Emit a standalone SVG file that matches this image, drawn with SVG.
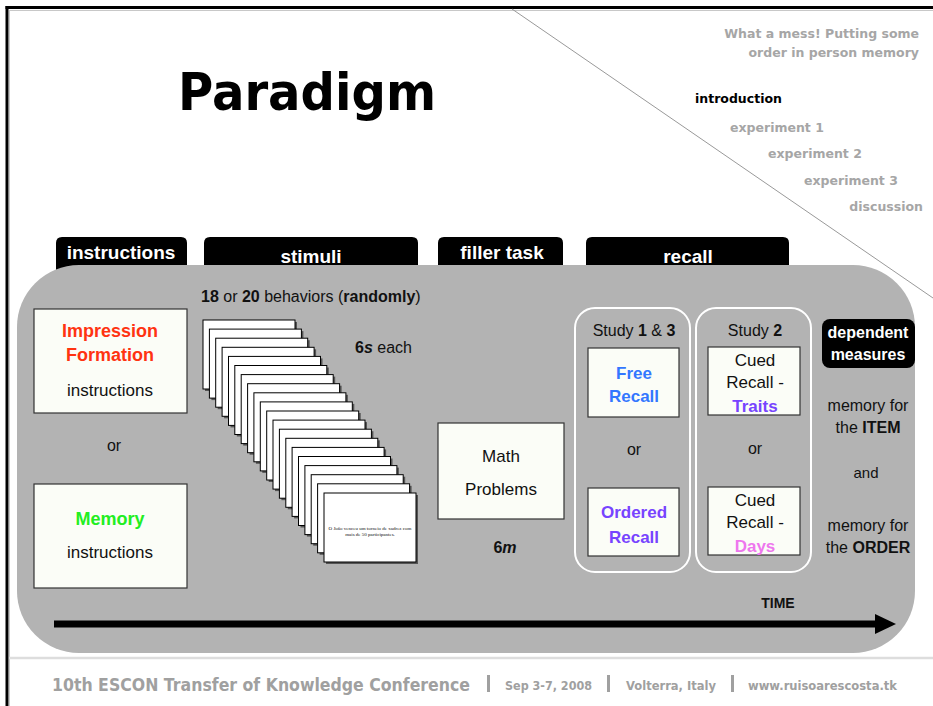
<svg xmlns="http://www.w3.org/2000/svg" width="933" height="706" viewBox="0 0 933 706">
<style>
text{font-family:"Liberation Sans","DejaVu Sans",sans-serif;fill:#111}
.b{font-weight:bold}
.tab{fill:#000}
.tabt{fill:#fff;font-weight:bold;font-size:19px;text-anchor:middle}
.box{fill:#fbfdf7;stroke:#333;stroke-width:1.2}
.t17{font-size:17px}
.m{text-anchor:middle}
.nav{font-family:"DejaVu Sans","Liberation Sans",sans-serif;font-weight:bold;font-size:12.5px;fill:#a6a6a6}
.foot{font-family:"DejaVu Sans","Liberation Sans",sans-serif;font-weight:bold;fill:#a0a0a0}
.study{fill:none;stroke:#fff;stroke-width:2}
</style>
<defs>
<g id="card">
<rect x="2" y="2" width="92" height="69" fill="#555"/>
<rect x="0" y="0" width="92" height="69" fill="#fff" stroke="#000" stroke-width="1"/>
</g>
</defs>
<rect width="933" height="706" fill="#fff"/>
<!-- frame -->
<line x1="9.5" y1="10.5" x2="933" y2="10.5" stroke="#c8c8c8" stroke-width="1"/>
<line x1="9.5" y1="10" x2="9.5" y2="706" stroke="#c8c8c8" stroke-width="1"/>
<line x1="5.5" y1="7.5" x2="933" y2="7.5" stroke="#000" stroke-width="3"/>
<line x1="7" y1="6" x2="7" y2="706" stroke="#000" stroke-width="3"/>
<line x1="512" y1="9" x2="933" y2="298" stroke="#999" stroke-width="1"/>
<line x1="9" y1="658" x2="933" y2="658" stroke="#ddd" stroke-width="2.5"/>
<!-- title & nav -->
<text x="178" y="110" font-size="52" font-weight="bold" textLength="258" lengthAdjust="spacingAndGlyphs" style="fill:#000;font-family:'DejaVu Sans',sans-serif">Paradigm</text>
<text x="919" y="38" class="nav" text-anchor="end">What a mess! Putting some</text>
<text x="919" y="57" class="nav" text-anchor="end">order in person memory</text>
<text x="695" y="103" class="nav" style="fill:#000">introduction</text>
<text x="730" y="132" class="nav">experiment 1</text>
<text x="768" y="158" class="nav">experiment 2</text>
<text x="804" y="185" class="nav">experiment 3</text>
<text x="923" y="211" class="nav" text-anchor="end">discussion</text>
<!-- tabs -->
<g id="tab-instructions"><path class="tab" d="M56,275 V243 Q56,237 62,237 H181 Q187,237 187,243 V275 Z"/><text x="121" y="259" class="tabt">instructions</text></g>
<g id="tab-stimuli"><path class="tab" d="M204,275 V243 Q204,237 210,237 H412 Q418,237 418,243 V275 Z"/><text x="311" y="263" class="tabt">stimuli</text></g>
<g id="tab-filler"><path class="tab" d="M438,275 V243 Q438,237 444,237 H557 Q563,237 563,243 V275 Z"/><text x="502" y="259" class="tabt">filler task</text></g>
<g id="tab-recall"><path class="tab" d="M586,275 V243 Q586,237 592,237 H783 Q789,237 789,243 V275 Z"/><text x="688" y="263" class="tabt">recall</text></g>
<!-- panel -->
<rect id="panel" x="17" y="265" width="898" height="388" rx="62" ry="62" fill="#b3b3b3"/>
<!-- instructions -->
<g id="impression">
<rect class="box" x="34" y="309" width="153" height="104"/>
<text x="110" y="337" class="b m" font-size="18" style="fill:#ff3311">Impression</text>
<text x="110" y="361" class="b m" font-size="18" style="fill:#ff3311">Formation</text>
<text x="110" y="396" class="m t17">instructions</text>
</g>
<text x="114" y="451" class="m" font-size="16">or</text>
<g id="memory">
<rect class="box" x="34" y="484" width="153" height="104"/>
<text x="110" y="525" class="b m" font-size="18" style="fill:#22ee22">Memory</text>
<text x="110" y="558" class="m t17">instructions</text>
</g>
<!-- stimuli -->
<g id="stimuli">
<text x="201" y="302" font-size="16"><tspan class="b">18</tspan> or <tspan class="b">20</tspan> behaviors (<tspan class="b">randomly</tspan>)</text>
<text x="355" y="353" font-size="16"><tspan class="b">6</tspan><tspan class="b" font-style="italic">s</tspan> each</text>
<use href="#card" x="203" y="320"/><use href="#card" x="209.4" y="329.1"/><use href="#card" x="215.7" y="338.2"/><use href="#card" x="222.1" y="347.3"/><use href="#card" x="228.5" y="356.4"/>
<use href="#card" x="234.8" y="365.5"/><use href="#card" x="241.2" y="374.6"/><use href="#card" x="247.6" y="383.7"/><use href="#card" x="253.9" y="392.8"/><use href="#card" x="260.3" y="401.9"/>
<use href="#card" x="266.7" y="411"/><use href="#card" x="273" y="420.1"/><use href="#card" x="279.4" y="429.2"/><use href="#card" x="285.8" y="438.3"/><use href="#card" x="292.1" y="447.4"/>
<use href="#card" x="298.5" y="456.5"/><use href="#card" x="304.9" y="465.6"/><use href="#card" x="311.2" y="474.7"/><use href="#card" x="317.6" y="483.8"/><use href="#card" x="324" y="493"/>
<text x="370" y="530" class="m" font-size="5" style="font-family:'Liberation Serif',serif">O João venceu um torneio de xadrez com</text>
<text x="370" y="535.5" class="m" font-size="5" style="font-family:'Liberation Serif',serif">mais de 50 participantes.</text>
</g>
<!-- filler -->
<g id="math">
<rect class="box" x="438" y="423" width="126" height="96"/>
<text x="501" y="462" class="m t17">Math</text>
<text x="501" y="495" class="m t17">Problems</text>
<text x="505" y="553" class="m b" font-size="16">6<tspan font-style="italic">m</tspan></text>
</g>
<!-- recall -->
<g id="study13">
<rect class="study" x="575" y="308" width="115" height="264" rx="20"/>
<text x="634" y="336" class="m" font-size="16">Study <tspan class="b">1</tspan> &amp; <tspan class="b">3</tspan></text>
<rect class="box" x="588" y="348" width="91" height="69"/>
<text x="634" y="379" class="m b t17" style="fill:#3377ff">Free</text>
<text x="634" y="402" class="m b t17" style="fill:#3377ff">Recall</text>
<text x="634" y="455" class="m" font-size="16">or</text>
<rect class="box" x="588" y="488" width="91" height="68"/>
<text x="634" y="518" class="m b t17" style="fill:#7744ff">Ordered</text>
<text x="634" y="543" class="m b t17" style="fill:#7744ff">Recall</text>
</g>
<g id="study2">
<rect class="study" x="696" y="308" width="115" height="264" rx="20"/>
<text x="755" y="336" class="m" font-size="16">Study <tspan class="b">2</tspan></text>
<rect class="box" x="708" y="347" width="92" height="68"/>
<text x="755" y="366" class="m t17">Cued</text>
<text x="755" y="388" class="m t17">Recall -</text>
<text x="755" y="412" class="m b t17" style="fill:#7744ff">Traits</text>
<text x="755" y="454" class="m" font-size="16">or</text>
<rect class="box" x="708" y="487" width="92" height="68"/>
<text x="755" y="506" class="m t17">Cued</text>
<text x="755" y="528" class="m t17">Recall -</text>
<text x="755" y="552" class="m b t17" style="fill:#ee77ee">Days</text>
</g>
<!-- dependent measures -->
<g id="dependent">
<rect x="822" y="319" width="93" height="49" rx="8" fill="#000"/>
<text x="868" y="338" class="m b" font-size="16" style="fill:#fff">dependent</text>
<text x="868" y="360" class="m b" font-size="16" style="fill:#fff">measures</text>
<text x="868" y="411" class="m" font-size="16">memory for</text>
<text x="868" y="433" class="m" font-size="16">the <tspan class="b">ITEM</tspan></text>
<text x="866" y="478" class="m" font-size="15">and</text>
<text x="868" y="531" class="m" font-size="16">memory for</text>
<text x="868" y="553" class="m" font-size="16">the <tspan class="b">ORDER</tspan></text>
</g>
<!-- timeline -->
<g id="connectors">
<line x1="54" y1="624" x2="877" y2="624" stroke="#000" stroke-width="7"/>
<polygon points="875,614 896,624 875,634" fill="#000"/>
</g>
<text x="778" y="608" class="m b" font-size="14">TIME</text>
<!-- footer -->
<g id="footer">
<text x="52" y="691" class="foot" font-size="17" textLength="418" lengthAdjust="spacingAndGlyphs">10th ESCON Transfer of Knowledge Conference</text>
<rect x="487" y="675" width="3" height="17" fill="#a0a0a0"/>
<text x="505" y="690" class="foot" font-size="12" textLength="87" lengthAdjust="spacingAndGlyphs">Sep 3-7, 2008</text>
<rect x="607" y="675" width="3" height="17" fill="#a0a0a0"/>
<text x="626" y="690" class="foot" font-size="12" textLength="90" lengthAdjust="spacingAndGlyphs">Volterra, Italy</text>
<rect x="731" y="675" width="3" height="17" fill="#a0a0a0"/>
<text x="748" y="690" class="foot" font-size="12" textLength="149" lengthAdjust="spacingAndGlyphs">www.ruisoarescosta.tk</text>
</g>
</svg>
